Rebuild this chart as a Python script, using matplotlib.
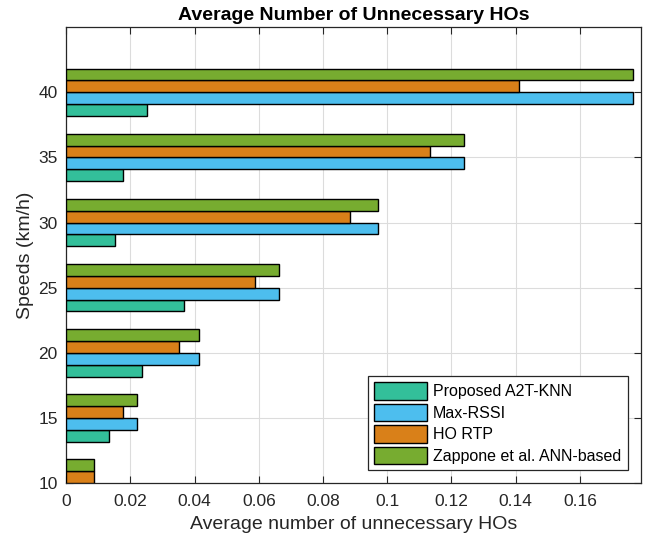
import numpy as np
import matplotlib.pyplot as plt

plt.rcParams['font.family'] = ['Liberation Sans', 'DejaVu Sans']

speeds = [10, 15, 20, 25, 30, 35, 40]
a2t_knn = [0.0050, 0.0133, 0.0236, 0.0368, 0.0152, 0.0177, 0.0252]
max_rssi = [0.0088, 0.0221, 0.0413, 0.0663, 0.0972, 0.1238, 0.1767]
ho_rtp = [0.0088, 0.0177, 0.0352, 0.0589, 0.0883, 0.1134, 0.1412]
zappone = [0.0088, 0.0221, 0.0413, 0.0663, 0.0972, 0.1238, 0.1767]

series = [a2t_knn, max_rssi, ho_rtp, zappone]
labels = ["Proposed A2T-KNN", "Max-RSSI", "HO RTP", "Zappone et al. ANN-based"]
colors = ["#33bf9a", "#4dbeee", "#d98019", "#77ac30"]

fig = plt.figure(figsize=(6.48, 5.41), dpi=100)
ax = fig.add_axes([0.102, 0.107, 0.887, 0.843])

y = np.array(speeds, dtype=float)
n = len(series)
group = 5 * n / (n + 1.5)
h = group / n
for i, (vals, lab, c) in enumerate(zip(series, labels, colors)):
    off = -group / 2 + h * (i + 0.5)
    ax.barh(y + off, vals, height=h, color=c, edgecolor="black", linewidth=1.0,
            label=lab, zorder=3)

ax.set_xlim(0, 0.179)
ax.set_ylim(10, 45)
ax.set_yticks(speeds)
ax.set_xticks(np.arange(0, 0.161, 0.02))
ax.set_xticklabels(["0", "0.02", "0.04", "0.06", "0.08", "0.1", "0.12", "0.14", "0.16"])
ax.tick_params(direction="in", top=True, right=True, labelsize=12.5, colors="#262626",
               length=5, width=0.8)
ax.tick_params(axis="x", pad=8)
ax.tick_params(axis="y", pad=6)
ax.grid(True, color="#dcdcdc", linewidth=0.8, zorder=0)
ax.set_axisbelow(True)
for s in ax.spines.values():
    s.set_color("#262626")
    s.set_linewidth(0.9)

ax.set_xlabel("Average number of unnecessary HOs", fontsize=14, color="#262626", labelpad=5)
ax.set_ylabel("Speeds (km/h)", fontsize=14, color="#262626", labelpad=3)
ax.set_title("Average Number of Unnecessary HOs", fontsize=14, fontweight="bold", pad=5)

leg = ax.legend(loc="lower right", bbox_to_anchor=(0.977, 0.028), borderaxespad=0,
                fontsize=11.5, fancybox=False, framealpha=1, edgecolor="#262626",
                handlelength=3.3, handleheight=1.3, labelspacing=0.25,
                borderpad=0.4, handletextpad=0.4)
leg.get_frame().set_linewidth(0.9)

fig.savefig("out.png", dpi=100)
